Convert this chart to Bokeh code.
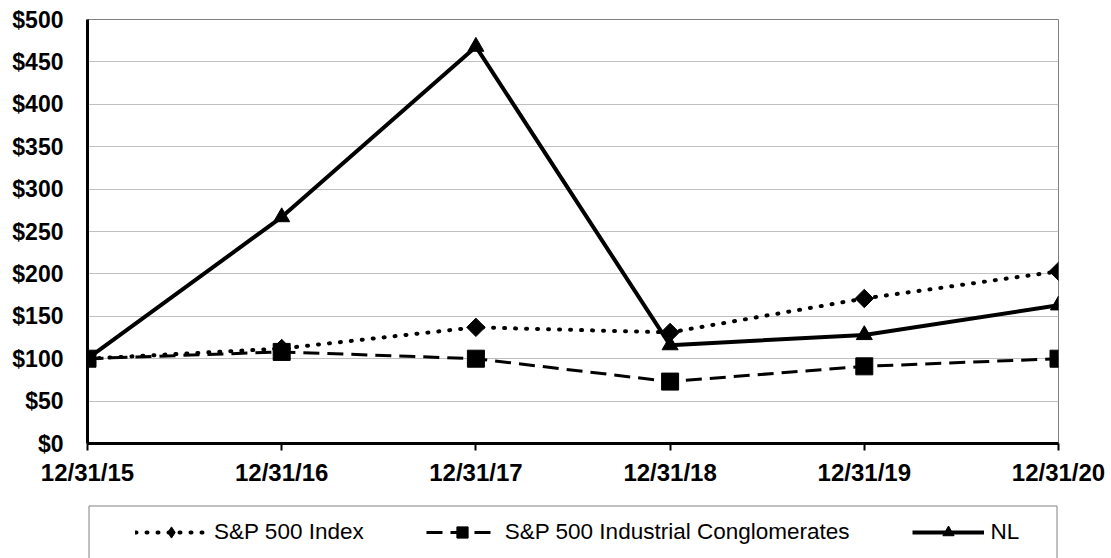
import math
from bokeh.plotting import figure
from bokeh.models import Range1d, FixedTicker, PrintfTickFormatter, Legend, LegendItem
from bokeh.layouts import column
from bokeh.embed import file_html
from bokeh.resources import INLINE

# ---- data ----
categories = ["12/31/15", "12/31/16", "12/31/17", "12/31/18", "12/31/19", "12/31/20"]
sp500 = [100, 112, 137, 131, 171, 203]
industrial = [100, 108, 100, 73, 91, 100]
nl = [100, 267, 468, 116, 128, 163]
series_names = ["S&P 500 Index", "S&P 500 Industrial Conglomerates", "NL"]
y_ticks = list(range(0, 501, 50))

x = list(range(len(categories)))
FONT = "Liberation Sans"

p = figure(width=1111, height=500,
           x_range=Range1d(0, len(categories) - 1), y_range=Range1d(0, 500),
           output_backend="svg", toolbar_location=None,
           min_border_left=87, min_border_right=53, min_border_top=19, min_border_bottom=57)
p.background_fill_color = "white"
p.border_fill_color = "white"
p.outline_line_color = "#808080"
p.outline_line_width = 1

p.xgrid.visible = False
p.ygrid.ticker = FixedTicker(ticks=y_ticks)
p.ygrid.grid_line_color = "#c0c0c0"
p.ygrid.grid_line_width = 1

p.yaxis.ticker = FixedTicker(ticks=y_ticks)
p.yaxis.formatter = PrintfTickFormatter(format="$%d")
p.yaxis.axis_line_color = "black"
p.yaxis.axis_line_width = 3
p.yaxis.major_tick_line_color = None
p.yaxis.minor_tick_line_color = None
p.yaxis.major_tick_out = 0
p.yaxis.major_tick_in = 0
p.yaxis.major_label_standoff = 24
p.yaxis.major_label_text_font = FONT
p.yaxis.major_label_text_font_style = "bold"
p.yaxis.major_label_text_font_size = "23px"
p.yaxis.major_label_text_color = "black"

p.xaxis.ticker = FixedTicker(ticks=x)
p.xaxis.major_label_overrides = {i: c for i, c in zip(x, categories)}
p.xaxis.axis_line_color = "black"
p.xaxis.axis_line_width = 3
p.xaxis.major_tick_line_color = "black"
p.xaxis.major_tick_line_width = 2
p.xaxis.major_tick_out = 7
p.xaxis.major_tick_in = 0
p.xaxis.minor_tick_line_color = None
p.xaxis.major_label_standoff = 8
p.xaxis.major_label_text_font = FONT
p.xaxis.major_label_text_font_style = "bold"
p.xaxis.major_label_text_font_size = "24px"
p.xaxis.major_label_text_color = "black"

SP_LINE = dict(line_color="black", line_width=4, line_dash="1 10", line_cap="round")
IND_LINE = dict(line_color="black", line_width=3, line_dash="16 8")
NL_LINE = dict(line_color="black", line_width=4)
SP_MARK = dict(marker="square", angle=math.pi / 4, size=13, color="black")
IND_MARK = dict(marker="square", size=17, color="black")
NL_MARK = dict(marker="triangle", size=16, color="black")

p.line(x, sp500, **SP_LINE)
p.scatter(x, sp500, **SP_MARK)
p.line(x, industrial, **IND_LINE)
p.scatter(x, industrial, **IND_MARK)
p.line(x, nl, **NL_LINE)
p.scatter(x, nl, **NL_MARK)

# ---- legend strip: a second figure whose frame lines up under the plot ----
# its ranges are pixel-like: x = page x, y = page y (downwards)
lf = figure(width=1111, height=58, x_range=Range1d(87, 1058), y_range=Range1d(558, 500),
            output_backend="svg", toolbar_location=None,
            x_axis_type=None, y_axis_type=None,
            min_border_left=87, min_border_right=53, min_border_top=0, min_border_bottom=0)
lf.grid.visible = False
lf.outline_line_color = None
lf.background_fill_color = "white"
lf.border_fill_color = "white"

# legend frame: left, top and right edges (the bottom edge runs past the page)
lf.line([88.5, 88.5, 1056.5, 1056.5], [570, 505.5, 505.5, 570],
        line_color="#808080", line_width=1)

# legend sample renderers (their points lie outside the strip, only the legend shows them)
off = [-1000, -1000]
l1 = lf.line(off, off, **SP_LINE)
g1 = lf.scatter(off, off, marker="diamond", color="black")
l2 = lf.line(off, off, **IND_LINE)
g2 = lf.scatter(off, off, marker="square", color="black")
l3 = lf.line(off, off, **NL_LINE)
g3 = lf.scatter(off, off, marker="triangle", color="black")

legend = Legend(items=[LegendItem(label=series_names[0], renderers=[l1, g1]),
                       LegendItem(label=series_names[1], renderers=[l2, g2]),
                       LegendItem(label=series_names[2], renderers=[l3, g3])],
                location=(48, 12), orientation="horizontal", spacing=62,
                glyph_width=72, glyph_height=28, label_standoff=7,
                padding=0, margin=0, border_line_color=None, background_fill_alpha=0,
                label_text_font=FONT, label_text_font_size="22.5px",
                label_text_color="black")
lf.add_layout(legend)

open("out.html", "w").write(file_html(column(p, lf), INLINE))
